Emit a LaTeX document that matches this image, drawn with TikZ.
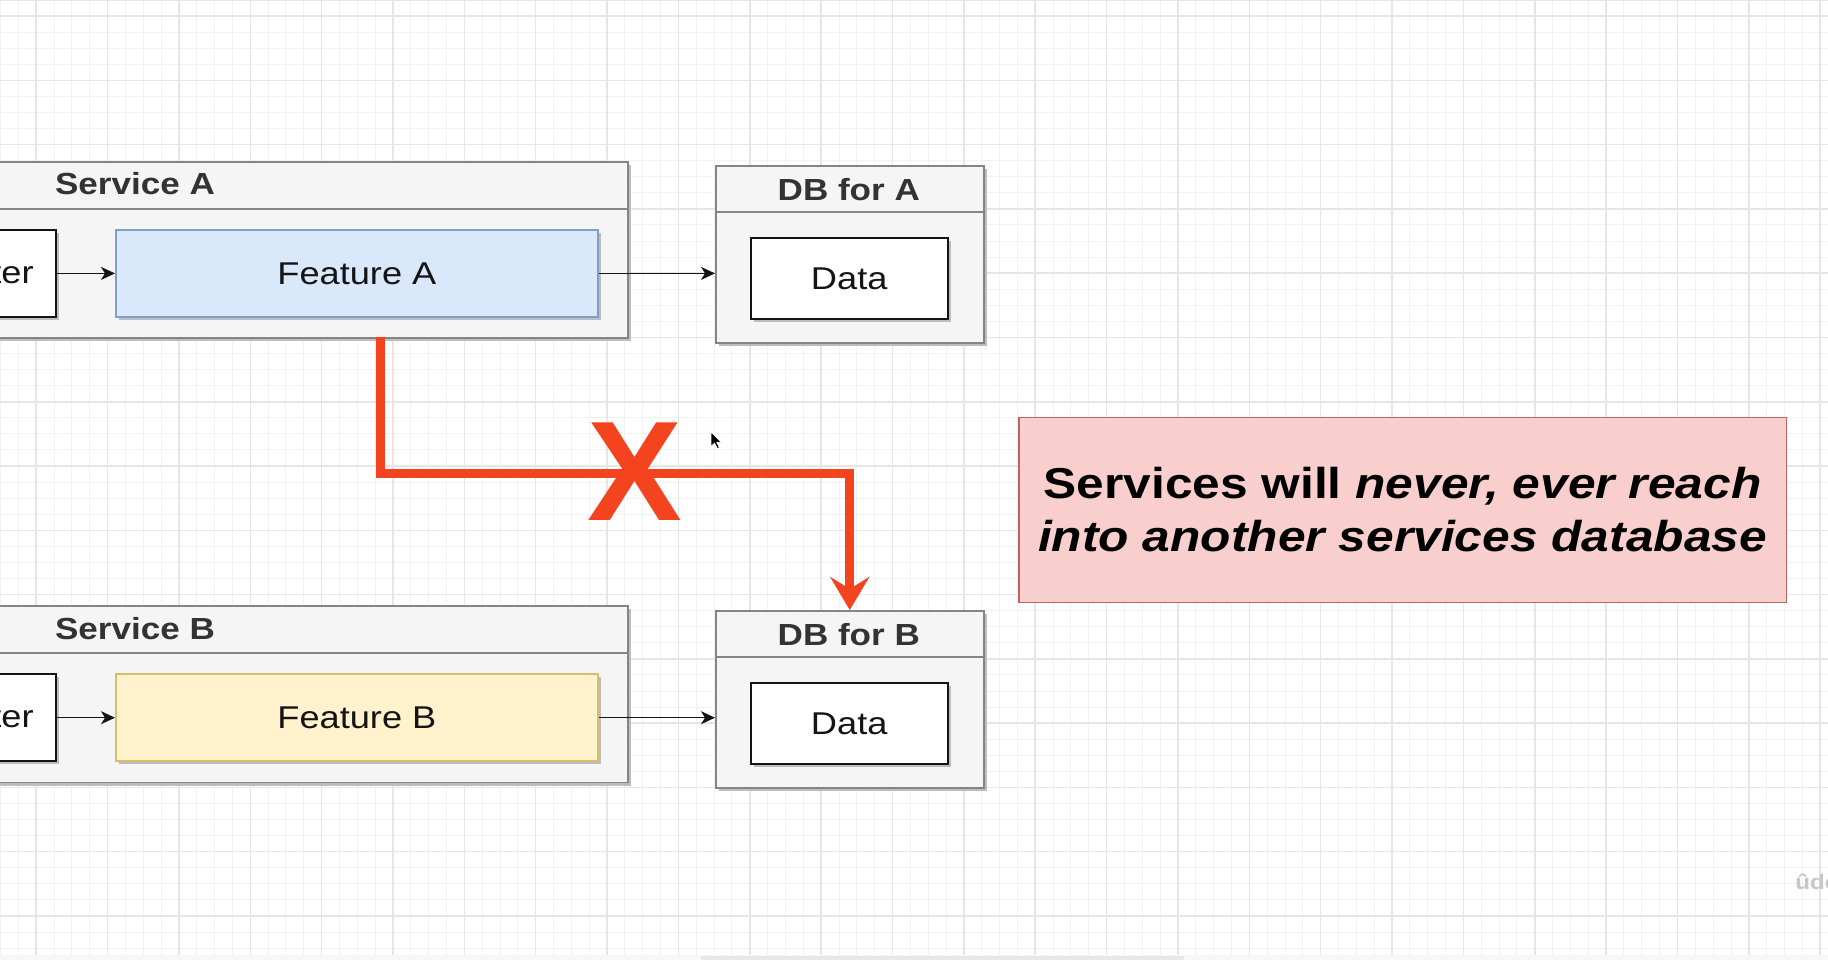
\documentclass[tikz,border=0pt]{standalone}
\usepackage{fontspec}
\setmainfont{Liberation Sans}[FakeStretch=1.15]
\newfontfamily\xfont{Liberation Sans}
\usetikzlibrary{arrows.meta,calc}
\definecolor{gridminor}{HTML}{F2F2F2}
\definecolor{gridmajor}{HTML}{E6E6E6}
\definecolor{contfill}{HTML}{F5F5F5}
\definecolor{contline}{HTML}{858585}
\definecolor{titletext}{HTML}{333333}
\definecolor{blueFill}{HTML}{DAE8FC}
\definecolor{blueLine}{HTML}{7F9FCB}
\definecolor{yelFill}{HTML}{FFF2CC}
\definecolor{yelLine}{HTML}{D9BE6A}
\definecolor{redx}{HTML}{F4431F}
\definecolor{pinkFill}{HTML}{F8CFCC}
\definecolor{pinkLine}{HTML}{BE6561}
\definecolor{shadowc}{HTML}{BDBDBD}
\definecolor{inkc}{HTML}{141414}
\tikzset{
  shd/.style={preaction={fill=shadowc, transform canvas={shift={(1.6pt,-1.6pt)}}}},
  boxbase/.style={rectangle, inner sep=0pt, anchor=north west, line width=0.9pt, shd},
  cont/.style={boxbase, draw=contline, fill=contfill},
  featbluebox/.style={boxbase, draw=blueLine, fill=blueFill, text=inkc, font=\fontsize{15.75}{18}\selectfont},
  featyelbox/.style={boxbase, draw=yelLine, fill=yelFill, text=inkc, font=\fontsize{15.75}{18}\selectfont},
  whitebox/.style={boxbase, draw=inkc, fill=white, text=inkc, font=\fontsize{15.75}{18}\selectfont},
  ttl/.style={inner sep=0pt, text=titletext, font=\bfseries\fontsize{15.25}{18}\selectfont},
  lbl/.style={inner sep=0pt, text=inkc, font=\fontsize{15.75}{18}\selectfont},
  divline/.style={draw=contline, line width=0.9pt},
  thinarrow/.style={draw=inkc, line width=0.7pt, -{Stealth[length=7pt, width=6.5pt, inset=2pt]}},
  redarrow/.style={draw=redx, line width=4.3pt, -{Stealth[length=16.5pt, width=19.5pt, inset=6pt]}},
  notebox/.style={rectangle, inner sep=0pt, anchor=north west, draw=pinkLine, fill=pinkFill, line width=0.8pt},
  notetext/.style={inner sep=0pt, align=center, text=black, font=\bfseries\fontsize{21.6}{26.5}\selectfont},
  bigx/.style={inner sep=0pt, text=redx, font=\xfont\bfseries\fontsize{71}{71}\selectfont}
}
\begin{document}
\begin{tikzpicture}[x=0.5pt,y=-0.5pt]
\useasboundingbox (0,0) rectangle (1828,960);
\clip (0,0) rectangle (1828,960);
\fill[white] (0,0) rectangle (1828,960);
% grid
\foreach \i in {0,...,102} \draw[gridminor, line width=0.5pt] ({0.52+17.84*\i},0) -- ({0.52+17.84*\i},955);
\foreach \k in {0,...,59} \draw[gridminor, line width=0.5pt] (0,{16.07*\k}) -- (1828,{16.07*\k});
\foreach \i in {0,...,25} \draw[gridmajor, line width=0.75pt] ({36.2+71.36*\i},0) -- ({36.2+71.36*\i},955);
\foreach \k in {0,...,14} \draw[gridmajor, line width=0.75pt] (0,{16.07+64.28*\k}) -- (1828,{16.07+64.28*\k});
\draw[gridmajor, line width=0.75pt] (0,0.6) -- (1828,0.6);
\fill[black!3] (0,955) rectangle (1828,960);
\fill[black!9] (701,955.5) rectangle (1184,960);

% Service A
\node[cont, minimum width=343.35pt, minimum height=88.25pt] (svcA) at (-60,160.7) {};
\draw[divline] ($(svcA.north west)+(0,48.3)$) -- ($(svcA.north east)+(0,48.3)$);
\node[ttl] (svcAt) at (135,184) {Service A};
\node[whitebox, minimum width=57.5pt, minimum height=43.5pt] (terA) at (-60,229) {};
\node[lbl, anchor=base east] (terAt) at (34,283.3) {ter};
\node[featbluebox, minimum width=241pt, minimum height=43.5pt] (featA) at (115,229) {Feature A};

% DB for A
\node[cont, minimum width=133.85pt, minimum height=88.65pt] (dbA) at (715,165) {};
\draw[divline] ($(dbA.north west)+(0,47.3)$) -- ($(dbA.north east)+(0,47.3)$);
\node[ttl] (dbAt) at (848.8,189.5) {DB for A};
\node[whitebox, minimum width=98.35pt, minimum height=40.2pt] (dataA) at (750,237.3) {Data};

% Service B
\node[cont, minimum width=343.35pt, minimum height=88.25pt] (svcB) at (-60,605) {};
\draw[divline] ($(svcB.north west)+(0,48.3)$) -- ($(svcB.north east)+(0,48.3)$);
\node[ttl] (svcBt) at (135,628.3) {Service B};
\node[whitebox, minimum width=57.5pt, minimum height=43.5pt] (terB) at (-60,673.3) {};
\node[lbl, anchor=base east] (terBt) at (34,727.6) {ter};
\node[featyelbox, minimum width=241pt, minimum height=43.5pt] (featB) at (115,673.3) {Feature B};

% DB for B
\node[cont, minimum width=133.85pt, minimum height=88.65pt] (dbB) at (715,610) {};
\draw[divline] ($(dbB.north west)+(0,47.3)$) -- ($(dbB.north east)+(0,47.3)$);
\node[ttl] (dbBt) at (848.8,634.5) {DB for B};
\node[whitebox, minimum width=98.35pt, minimum height=40.2pt] (dataB) at (750,682.3) {Data};

% black connectors
\draw[thinarrow] (terA.east) -- (featA.west);
\draw[thinarrow] (featA.east) -- (featA.east -| dbA.west);
\draw[thinarrow] (terB.east) -- (featB.west);
\draw[thinarrow] (featB.east) -- (featB.east -| dbB.west);

% red forbidden path
\coordinate (redsrc) at (380.5,337.2);
\coordinate (redbend) at (380.5,473.3);
\draw[redarrow] (redsrc) -- (redbend) -| (dbB.north);
\node[bigx] (xmark) at (634.5,471.7) {X};

% mouse cursor
\filldraw[fill=black, draw=white, line width=0.4pt, line join=round]
  (711,431.7) -- ++(0,15) -- ++(3.5,-3.5) -- ++(2.8,5.5) -- ++(2.2,-1) -- ++(-2.7,-5.4) -- ++(4.7,0) -- cycle;

% note
\node[notebox, minimum width=383.75pt, minimum height=92.55pt] (note) at (1018,416.5) {};
\node[notetext] (notet) at (note.center) {Services will \textit{never, ever reach}\\\textit{into another services database}};

% watermark
\node[inner sep=0pt, anchor=west, text=black!22, font=\bfseries\fontsize{10.5}{12}\selectfont] (wm) at (1795,882) {ûde};
\end{tikzpicture}
\end{document}
